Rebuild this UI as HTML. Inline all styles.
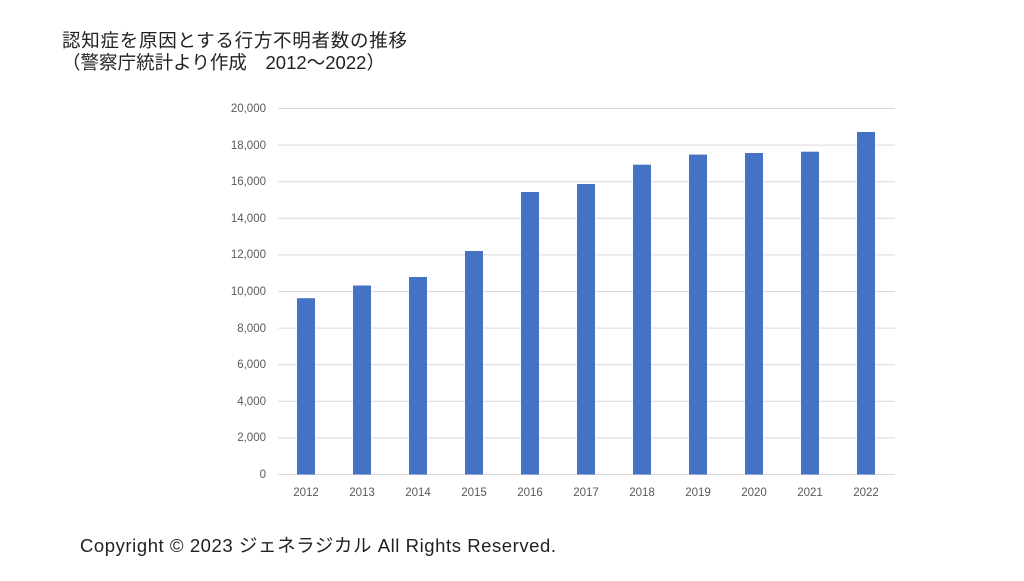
<!DOCTYPE html>
<html><head><meta charset="utf-8"><style>
body{margin:0;background:#fff;}
svg text{font-family:"Liberation Sans","Noto Sans CJK JP",sans-serif;}
</style></head><body>
<svg width="1024" height="576" xmlns="http://www.w3.org/2000/svg">
<rect width="1024" height="576" fill="#fff"/>
<text x="62" y="47" font-size="18.5" fill="#222" textLength="345" lengthAdjust="spacing">認知症を原因とする行方不明者数の推移</text>
<text x="62" y="69" font-size="18.5" fill="#222" textLength="323" lengthAdjust="spacing">（警察庁統計より作成　2012～2022）</text>
<g stroke="#d9d9d9" stroke-width="1">
<line x1="278" x2="895" y1="108.5" y2="108.5"/>
<line x1="278" x2="895" y1="145.1" y2="145.1"/>
<line x1="278" x2="895" y1="181.7" y2="181.7"/>
<line x1="278" x2="895" y1="218.3" y2="218.3"/>
<line x1="278" x2="895" y1="254.9" y2="254.9"/>
<line x1="278" x2="895" y1="291.5" y2="291.5"/>
<line x1="278" x2="895" y1="328.1" y2="328.1"/>
<line x1="278" x2="895" y1="364.7" y2="364.7"/>
<line x1="278" x2="895" y1="401.3" y2="401.3"/>
<line x1="278" x2="895" y1="437.9" y2="437.9"/>
<line x1="278" x2="895" y1="474.5" y2="474.5"/>
</g>
<g font-size="11.5" fill="#595959" text-anchor="end">
<text x="266" y="112">20,000</text>
<text x="266" y="149">18,000</text>
<text x="266" y="185">16,000</text>
<text x="266" y="222">14,000</text>
<text x="266" y="258">12,000</text>
<text x="266" y="295">10,000</text>
<text x="266" y="332">8,000</text>
<text x="266" y="368">6,000</text>
<text x="266" y="405">4,000</text>
<text x="266" y="441">2,000</text>
<text x="266" y="478">0</text>
</g>
<g fill="#4472c4">
<rect x="297" y="298.2" width="18" height="176.3"/>
<rect x="353" y="285.5" width="18" height="189"/>
<rect x="409" y="277" width="18" height="197.5"/>
<rect x="465" y="251" width="18" height="223.5"/>
<rect x="521" y="192" width="18" height="282.5"/>
<rect x="577" y="184" width="18" height="290.5"/>
<rect x="633" y="164.7" width="18" height="309.8"/>
<rect x="689" y="154.6" width="18" height="319.9"/>
<rect x="745" y="153" width="18" height="321.5"/>
<rect x="801" y="151.7" width="18" height="322.8"/>
<rect x="857" y="132" width="18" height="342.5"/>
</g>
<g font-size="11.5" fill="#595959" text-anchor="middle">
<text x="306" y="496">2012</text>
<text x="362" y="496">2013</text>
<text x="418" y="496">2014</text>
<text x="474" y="496">2015</text>
<text x="530" y="496">2016</text>
<text x="586" y="496">2017</text>
<text x="642" y="496">2018</text>
<text x="698" y="496">2019</text>
<text x="754" y="496">2020</text>
<text x="810" y="496">2021</text>
<text x="866" y="496">2022</text>
</g>
<text x="80" y="552" font-size="18.5" fill="#222" textLength="476" lengthAdjust="spacing">Copyright © 2023 ジェネラジカル All Rights Reserved.</text>
</svg>
</body></html>
